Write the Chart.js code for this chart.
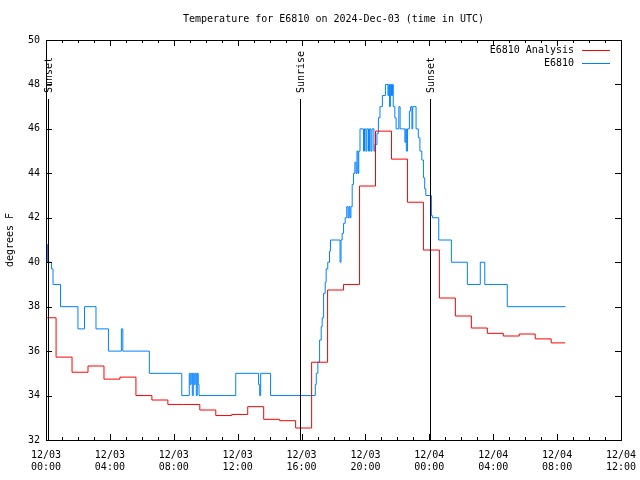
<!DOCTYPE html>
<html>
<head>
<meta charset="utf-8">
<script src="https://cdn.jsdelivr.net/npm/chart.js@4.4.1/dist/chart.umd.min.js"></script>
<style>
  html, body { margin: 0; padding: 0; background: #fff; }
</style>
</head>
<body>
<canvas id="chart" width="640" height="480"></canvas>
<script>
// Hours since 12/03 00:00 UTC
const analysisHours = [0.05, 0.63, 1.63, 2.63, 3.63, 4.63, 5.63, 6.63, 7.63, 8.63, 9.63,
  10.63, 11.63, 12.63, 13.63, 14.63, 15.63, 16.63, 17.63, 18.63, 19.63, 20.63, 21.63,
  22.63, 23.63, 24.63, 25.63, 26.63, 27.63, 28.63, 29.63, 30.63, 31.63, 32.5];
const analysisTemps = [37.5, 35.73, 35.05, 35.33, 34.74, 34.83, 34.0, 33.8, 33.6, 33.6, 33.35,
  33.1, 33.15, 33.5, 32.93, 32.87, 32.54, 35.5, 38.75, 39.0, 43.43, 45.9, 44.64,
  42.7, 40.55, 38.39, 37.58, 37.04, 36.8, 36.68, 36.77, 36.55, 36.37, 36.37];

const obsHours = [0.06, 0.09, 0.34, 0.44, 0.91, 2.0, 2.41, 3.13, 3.91, 4.72, 4.81, 6.47,
  8.5, 8.97, 9.03, 9.09, 9.16, 9.22, 9.28, 9.34, 9.41, 9.47, 9.53, 9.58,
  11.88, 13.31, 13.38, 13.44, 14.06,
  16.86, 16.92, 17.02, 17.13, 17.23, 17.29, 17.38, 17.48, 17.54, 17.64, 17.75, 17.81,
  18.41, 18.47, 18.54, 18.63, 18.73, 18.83, 18.91, 18.97, 19.03, 19.09, 19.17, 19.25,
  19.34, 19.41, 19.47, 19.53, 19.58, 19.66, 19.88, 19.94, 20.03, 20.09, 20.19, 20.25,
  20.34, 20.41, 20.53, 20.59, 20.72, 20.81, 20.91, 21.06, 21.25, 21.41, 21.46, 21.51,
  21.56, 21.63, 21.69, 21.74, 21.84, 21.92, 22.09, 22.17, 22.47, 22.53, 22.56, 22.63,
  22.75, 22.83, 22.91, 22.96, 23.17, 23.31, 23.41, 23.53, 23.63, 23.71, 23.78,
  24.13, 24.19, 24.59, 25.38, 26.38, 27.19, 27.47, 28.88, 32.53];
const obsTemps = [40.8, 40.0, 39.7, 39.0, 38.0, 37.0, 38.0, 37.0, 36.0, 37.0, 36.0, 35.0,
  34.0, 35.0, 34.5, 35.0, 34.0, 35.0, 34.5, 35.0, 34.0, 35.0, 34.5, 34.0,
  35.0, 34.5, 34.0, 35.0, 34.0,
  34.5, 35.0, 35.5, 36.5, 37.1, 37.5, 38.6, 39.1, 39.7, 40.0, 40.5, 41.0,
  40.0, 41.0, 41.3, 41.75, 42.0, 42.5, 42.0, 42.5, 42.0, 42.5, 43.5, 44.0,
  44.5, 44.0, 45.0, 44.0, 45.0, 46.0, 45.0, 46.0, 45.0, 46.0, 45.0, 46.0,
  45.0, 46.0, 45.0, 45.3, 45.8, 46.5, 47.0, 47.5, 48.0, 47.5, 48.0, 47.0,
  48.0, 47.5, 48.0, 47.0, 46.5, 46.0, 47.0, 46.0, 45.4, 46.0, 45.0, 46.0,
  46.8, 47.0, 46.0, 47.0, 46.0, 45.6, 45.0, 44.6, 43.8, 43.3, 43.0,
  42.1, 42.0, 41.0, 40.0, 39.0, 40.0, 39.0, 38.0, 38.0];

const sunHours = [0.125, 15.875, 24.06];
const sunLabels = ['Sunset', 'Sunrise', 'Sunset'];

const seriesNames = ['E6810 Analysis', 'E6810'];
const seriesColors = ['#ff0000', '#0080ff'];

const MONO = '"DejaVu Sans Mono", "Liberation Mono", monospace';

function toPoints(xs, ys) {
  return xs.map((x, i) => ({ x: x, y: ys[i] }));
}

// Box, tick marks, sun lines, legend and titles in gnuplot style
const gnuplotDecor = {
  id: 'gnuplotDecor',
  afterDraw(chart) {
    const ctx = chart.ctx;
    const area = chart.chartArea;
    const xs = chart.scales.x;
    const ys = chart.scales.y;
    ctx.save();
    ctx.strokeStyle = '#000';
    ctx.lineWidth = 1;

    ctx.strokeRect(Math.round(area.left) + 0.5, Math.round(area.top) + 0.5,
      Math.round(area.right - area.left), Math.round(area.bottom - area.top));

    ctx.beginPath();
    for (let h = 0; h <= 36; h++) {
      const px = Math.round(xs.getPixelForValue(h)) + 0.5;
      const len = h % 4 === 0 ? 6 : 3;
      ctx.moveTo(px, area.bottom);
      ctx.lineTo(px, area.bottom - len);
      ctx.moveTo(px, area.top);
      ctx.lineTo(px, area.top + len);
    }
    for (let v = 32; v <= 50; v += 2) {
      const py = Math.round(ys.getPixelForValue(v)) + 0.5;
      ctx.moveTo(area.left, py);
      ctx.lineTo(area.left + 6, py);
      ctx.moveTo(area.right, py);
      ctx.lineTo(area.right - 6, py);
    }
    ctx.stroke();

    // sunrise / sunset markers
    ctx.fillStyle = '#000';
    ctx.font = '10px ' + MONO;
    sunHours.forEach((h, i) => {
      const px = Math.round(xs.getPixelForValue(h)) + 0.5;
      ctx.beginPath();
      ctx.moveTo(px, 99);
      ctx.lineTo(px, area.bottom);
      ctx.stroke();
      ctx.save();
      ctx.translate(px + 1, 93);
      ctx.rotate(-Math.PI / 2);
      ctx.textAlign = 'left';
      ctx.textBaseline = 'middle';
      ctx.fillText(sunLabels[i], 0, 0);
      ctx.restore();
    });

    // legend
    ctx.textAlign = 'right';
    ctx.textBaseline = 'middle';
    seriesNames.forEach((name, i) => {
      const ly = 50 + i * 13;
      ctx.fillStyle = '#000';
      ctx.fillText(name, 574, ly);
      ctx.strokeStyle = seriesColors[i];
      ctx.beginPath();
      ctx.moveTo(582, ly + 0.5);
      ctx.lineTo(610, ly + 0.5);
      ctx.stroke();
    });

    // title
    ctx.fillStyle = '#000';
    ctx.textAlign = 'center';
    ctx.fillText('Temperature for E6810 on 2024-Dec-03 (time in UTC)', (area.left + area.right) / 2, 19);

    // y axis title
    ctx.save();
    ctx.translate(10, 240);
    ctx.rotate(-Math.PI / 2);
    ctx.fillText('degrees F', 0, 0);
    ctx.restore();

    ctx.restore();
  }
};

new Chart(document.getElementById('chart'), {
  type: 'line',
  data: {
    datasets: [
      {
        label: seriesNames[0],
        data: toPoints(analysisHours, analysisTemps),
        borderColor: seriesColors[0],
        borderWidth: 1,
        pointRadius: 0,
        stepped: true,
      },
      {
        label: seriesNames[1],
        data: toPoints(obsHours, obsTemps),
        borderColor: seriesColors[1],
        borderWidth: 1,
        pointRadius: 0,
        stepped: true,
      },
    ],
  },
  options: {
    responsive: false,
    animation: false,
    layout: { padding: { top: 40, right: 19, left: 0, bottom: 0 } },
    plugins: {
      legend: { display: false },
      title: { display: false },
      tooltip: { enabled: false },
    },
    scales: {
      x: {
        type: 'linear',
        min: 0,
        max: 36,
        grid: { display: false, drawTicks: false },
        border: { display: false },
        afterFit: (s) => {
          s.height = 40;
          s.paddingLeft = 0;
          s.paddingRight = 0;
        },
        ticks: {
          stepSize: 4,
          padding: 9,
          maxRotation: 0,
          autoSkip: false,
          color: '#000',
          font: { family: MONO, size: 10, lineHeight: 1.2 },
          callback: function (v) {
            const day = v < 24 ? '12/03' : '12/04';
            const hh = String(v % 24).padStart(2, '0');
            return [day, hh + ':00'];
          },
        },
      },
      y: {
        min: 32,
        max: 50,
        grid: { display: false, drawTicks: false },
        border: { display: false },
        afterFit: (s) => {
          s.width = 46;
          s.paddingTop = 0;
          s.paddingBottom = 0;
        },
        ticks: {
          stepSize: 2,
          padding: 6,
          color: '#000',
          font: { family: MONO, size: 10 },
        },
      },
    },
  },
  plugins: [gnuplotDecor],
});
</script>
</body>
</html>
